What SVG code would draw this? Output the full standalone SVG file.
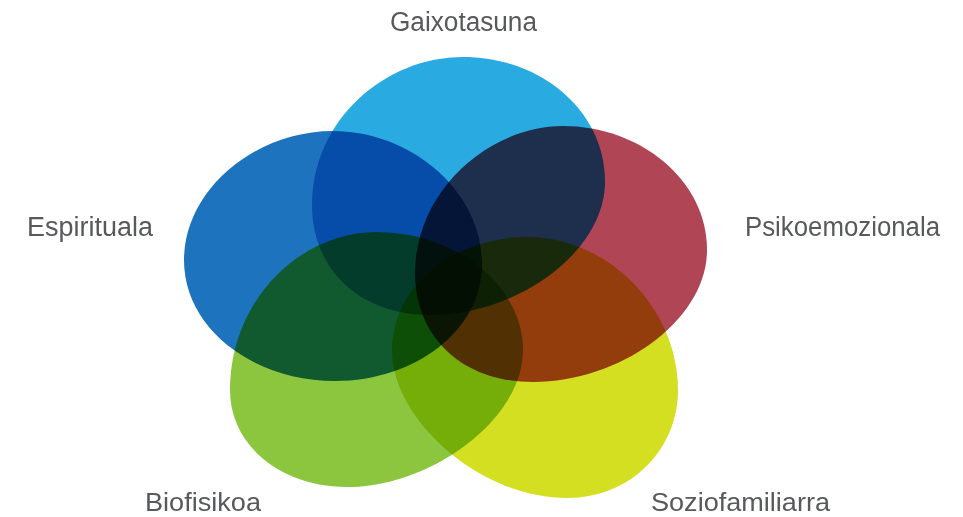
<svg xmlns="http://www.w3.org/2000/svg" width="963" height="517" viewBox="0 0 963 517">
  <style>
    .blob { mix-blend-mode: multiply; }
    .label { font-family: "Liberation Sans", "DejaVu Sans", sans-serif; font-size: 27px; fill: #58595b; }
    .low { font-size: 26px; }
  </style>
  <rect width="963" height="517" fill="#ffffff"/>
  <g id="blobs" style="isolation:isolate">
    <g id="gaixotasuna">
      <path class="blob" fill="#29abe2" d="M312,205 C312,120 385,57 463,57 C540,57 605,110 605,182 C605,250 520,315 430,315 C360,315 312,270 312,205 Z"/>
    </g>
    <g id="espirituala">
      <path class="blob" fill="#1e73be" d="M184,260 C184,190 255,131 333,131 C410,131 482,190 482,265 C482,330 415,381 335,381 C255,381 184,330 184,260 Z"/>
    </g>
    <g id="psikoemozionala">
      <path class="blob" fill="#b04555" d="M415,273 C415,190 490,126 563,126 C640,126 707,180 707,250 C707,320 620,382 533,382 C460,382 415,335 415,273 Z"/>
    </g>
    <g id="soziofamiliarra">
      <path class="blob" fill="#d5df22" d="M392,350 C392,285 455,237 527,237 C610,237 678,310 678,390 C678,450 630,498 567,498 C480,498 392,420 392,350 Z"/>
    </g>
    <g id="biofisikoa">
      <path class="blob" fill="#8cc63f" d="M230,390 C230,300 300,232 377,232 C455,232 523,285 523,350 C523,420 430,487 347,487 C280,487 230,445 230,390 Z"/>
    </g>
  </g>
  <g id="labels">
    <text class="label" x="390" y="31" textLength="147" lengthAdjust="spacingAndGlyphs">Gaixotasuna</text>
    <text class="label" x="27" y="236" textLength="126" lengthAdjust="spacingAndGlyphs">Espirituala</text>
    <text class="label" x="745" y="236" textLength="195" lengthAdjust="spacingAndGlyphs">Psikoemozionala</text>
    <text class="label low" x="145" y="511" textLength="116" lengthAdjust="spacingAndGlyphs">Biofisikoa</text>
    <text class="label low" x="651" y="511" textLength="179" lengthAdjust="spacingAndGlyphs">Soziofamiliarra</text>
  </g>
</svg>
